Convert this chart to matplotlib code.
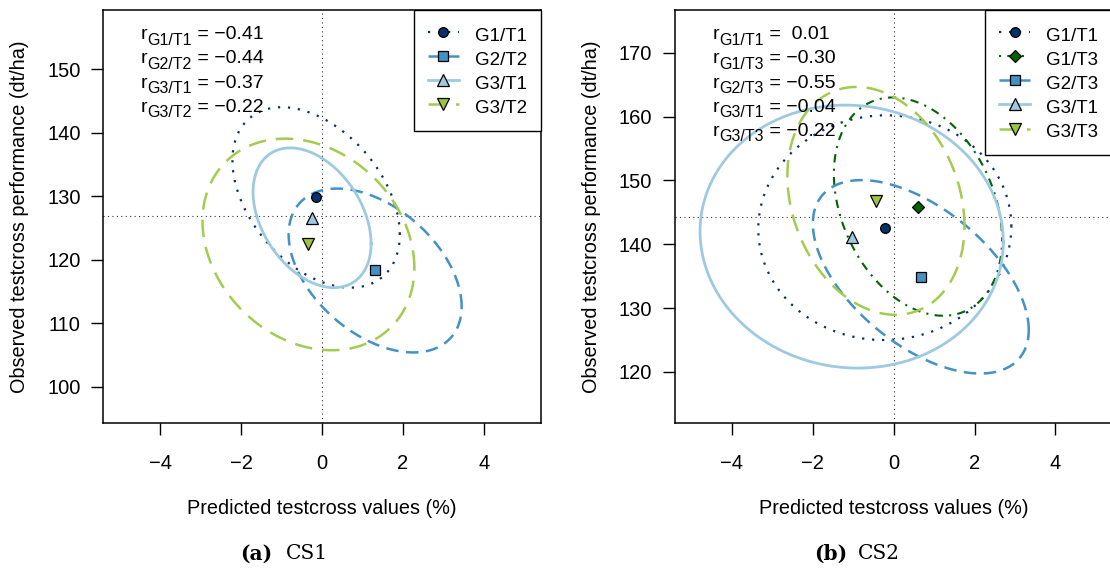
import numpy as np
import matplotlib
matplotlib.use("Agg")
import matplotlib.pyplot as plt
from matplotlib.lines import Line2D

plt.rcParams['font.family'] = ['Liberation Sans', 'DejaVu Sans']

# CS1: group means, spread (ellipse half extents) and correlation
groups_a = ["G1/T1", "G2/T2", "G3/T1", "G3/T2"]
mean_x_a = [-0.15, 1.31, -0.25, -0.34]
mean_y_a = [129.8, 118.3, 126.6, 122.4]
spread_x_a = [2.07, 2.14, 1.46, 2.62]
spread_y_a = [14.2, 12.9, 11.0, 16.65]
corr_a = [-0.41, -0.44, -0.37, -0.22]
ref_y_a = 126.8

# CS2
groups_b = ["G1/T1", "G1/T3", "G2/T3", "G3/T1", "G3/T3"]
mean_x_b = [-0.22, 0.60, 0.67, -1.04, -0.44]
mean_y_b = [142.6, 145.9, 134.9, 141.2, 146.8]
spread_x_b = [3.13, 2.08, 2.67, 3.75, 2.19]
spread_y_b = [17.6, 17.1, 15.15, 20.6, 17.85]
corr_b = [0.01, -0.30, -0.55, -0.04, -0.22]
ref_y_b = 144.3

xticks = [-4, -2, 0, 2, 4]
yticks_a = [100, 110, 120, 130, 140, 150]
yticks_b = [120, 130, 140, 150, 160, 170]

# line / marker style per group
styles = {
    "G1/T1": dict(color="#08306B", ls=(0, (1, 3.5)), lw=1.6, marker="o", ms=7, fc="#08306B"),
    "G1/T3": dict(color="#006400", ls=(0, (1, 3, 4, 3)), lw=1.5, marker="D", ms=6.5, fc="#006400"),
    "G2/T2": dict(color="#4292C6", ls=(0, (5, 3)), lw=1.8, marker="s", ms=6.5, fc="#4292C6"),
    "G2/T3": dict(color="#4292C6", ls=(0, (5, 3)), lw=1.8, marker="s", ms=6.5, fc="#4292C6"),
    "G3/T1": dict(color="#9ECAE1", ls="-", lw=2.0, marker="^", ms=9, fc="#9ECAE1"),
    "G3/T2": dict(color="#A3CC4F", ls=(0, (7, 4)), lw=1.8, marker="v", ms=9, fc="#9BC53D"),
    "G3/T3": dict(color="#A3CC4F", ls=(0, (7, 4)), lw=1.8, marker="v", ms=9, fc="#9BC53D"),
}


def ellipse(mx, my, sx, sy, r, n=300):
    t = np.linspace(0, 2 * np.pi, n)
    return mx + sx * np.cos(t), my + sy * (r * np.cos(t) + np.sqrt(1 - r ** 2) * np.sin(t))


def corr_label(ax, x, y, g, r):
    val = f"{r:.2f}".replace("-", "\u2212")
    if r >= 0:
        val = " " + val
    t1 = ax.text(x, y, "r", transform=ax.transAxes, fontsize=14, va="baseline", zorder=4)
    t2 = ax.annotate(g, xy=(1, 0), xycoords=t1, xytext=(0.3, -3.3),
                     textcoords="offset points", fontsize=11.5, va="bottom", zorder=4)
    ax.annotate(" = " + val, xy=(1, 0), xycoords=(t2, t1), xytext=(0, 0),
                textcoords="offset points", fontsize=14, va="bottom", zorder=4)


def panel(ax, groups, mx, my, sx, sy, corr, ref_y, yticks, ylim):
    ax.axvline(0, color="#333333", lw=0.8, ls=(0, (1, 3)), zorder=1)
    ax.axhline(ref_y, color="#333333", lw=0.8, ls=(0, (1, 3)), zorder=1)
    handles = []
    for g, x, y, a, b, r in zip(groups, mx, my, sx, sy, corr):
        st = styles[g]
        ex, ey = ellipse(x, y, a, b, r)
        ax.plot(ex, ey, color=st["color"], ls=st["ls"], lw=st["lw"], zorder=2)
        handles.append(Line2D([], [], color=st["color"], ls=st["ls"], lw=st["lw"],
                              marker=st["marker"], ms=st["ms"], mfc=st["fc"],
                              mec="black", mew=0.9, label=g))
    for g, x, y in zip(groups, mx, my):
        st = styles[g]
        ax.plot(x, y, ls="none", marker=st["marker"], ms=st["ms"], mfc=st["fc"],
                mec="black", mew=0.9, zorder=3)

    # correlation labels
    for i, (g, r) in enumerate(zip(groups, corr)):
        corr_label(ax, 0.085, 0.929 - i * 0.0584, g, r)

    leg = ax.legend(handles=handles, loc="upper right", borderaxespad=0, fancybox=False,
                    edgecolor="black", framealpha=1, fontsize=13.5, handlelength=1.65,
                    handleheight=1.3, handletextpad=0.85, borderpad=0.75, labelspacing=0.19,
                    numpoints=1)
    leg.get_frame().set_linewidth(1.0)
    leg.set_zorder(5)

    ax.set_xlim(-5.41, 5.41)
    ax.set_ylim(*ylim)
    ax.set_xticks(xticks)
    ax.set_xticklabels([str(v).replace("-", "\u2212") for v in xticks])
    ax.set_yticks(yticks)
    ax.tick_params(direction="out", length=8.5, width=1, labelsize=14.5)
    ax.tick_params(axis="x", pad=13.5)
    ax.tick_params(axis="y", pad=8)
    for s in ax.spines.values():
        s.set_linewidth(1.1)
    ax.set_xlabel("Predicted testcross values (%)", fontsize=14.3, va="center")
    ax.xaxis.set_label_coords(0.5, -0.206)
    ax.set_ylabel("Observed testcross performance (dt/ha)", fontsize=14.3, va="center")
    ax.yaxis.set_label_coords(-0.192, 0.5)


fig = plt.figure(figsize=(11.1, 5.68), dpi=100)
ax1 = fig.add_axes([0.0932, 0.2553, 0.3941, 0.7271])
ax2 = fig.add_axes([0.6081, 0.2553, 0.3941, 0.7271])

panel(ax1, groups_a, mean_x_a, mean_y_a, spread_x_a, spread_y_a, corr_a, ref_y_a,
      yticks_a, (94.3, 159.3))
panel(ax2, groups_b, mean_x_b, mean_y_b, spread_x_b, spread_y_b, corr_b, ref_y_b,
      yticks_b, (112.0, 176.7))

# sub-figure captions
cap_y = 0.015
fig.text(272 / 1110, cap_y, "(a)", family="DejaVu Serif", weight="bold", fontsize=14.5,
         ha="right", va="baseline")
fig.text(286 / 1110, cap_y, "CS1", family="DejaVu Serif", fontsize=14.5,
         ha="left", va="baseline")
fig.text(847 / 1110, cap_y, "(b)", family="DejaVu Serif", weight="bold", fontsize=14.5,
         ha="right", va="baseline")
fig.text(858 / 1110, cap_y, "CS2", family="DejaVu Serif", fontsize=14.5,
         ha="left", va="baseline")

fig.savefig("out.png", dpi=100)
